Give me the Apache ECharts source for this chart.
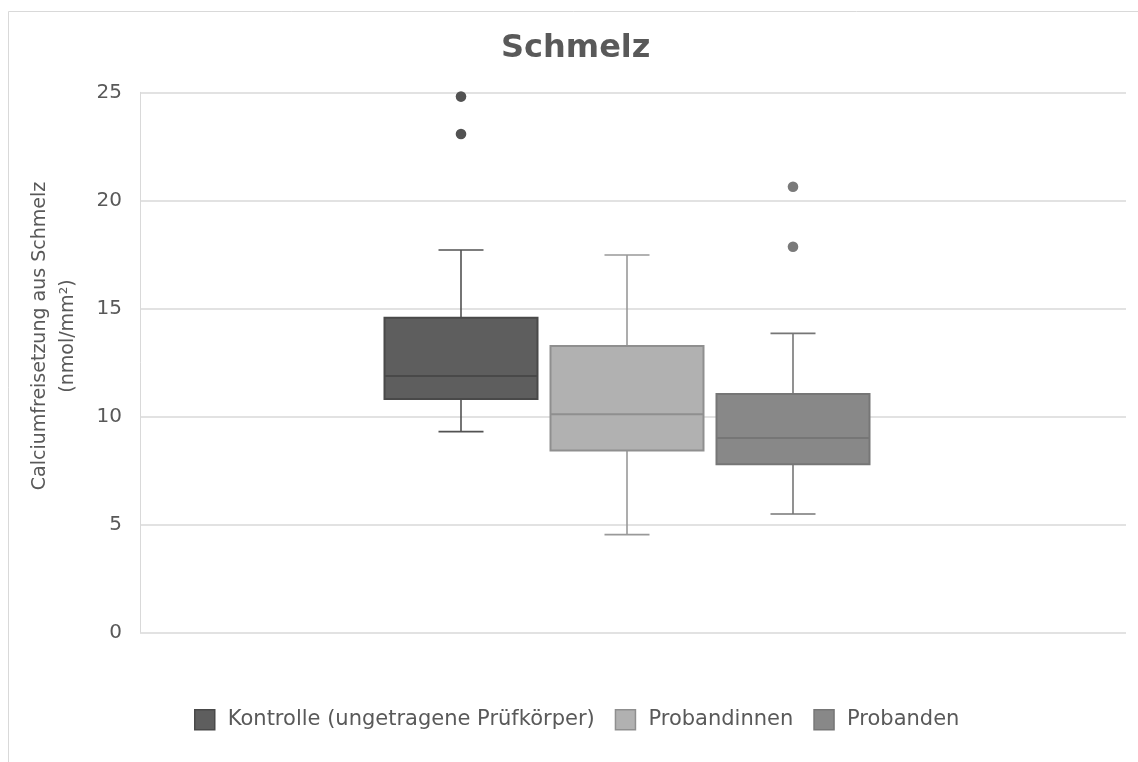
<!DOCTYPE html>
<html>
<head>
<meta charset="utf-8">
<script src="https://cdn.jsdelivr.net/npm/echarts@6/dist/echarts.min.js"></script>
<style>
  html, body { margin: 0; padding: 0; background: #ffffff; }
  #chart { width: 1138px; height: 762px; }
</style>
</head>
<body>
<div id="chart"></div>
<script>
// ---- data ----
const categories = ['Schmelz'];
const seriesNames = ['Kontrolle (ungetragene Prüfkörper)', 'Probandinnen', 'Probanden'];
// box statistics: [lower whisker, Q1, median, Q3, upper whisker]
const kontrolleStats = [9.29, 10.80, 11.87, 14.56, 17.70];
const probandinnenStats = [4.52, 8.42, 10.09, 13.25, 17.47];
const probandenStats = [5.48, 7.78, 9.00, 11.03, 13.84];
// values beyond the whiskers
const kontrolleOutliers = [24.80, 23.07];
const probandinnenOutliers = [];
const probandenOutliers = [20.63, 17.85];
const yTicks = [0, 5, 10, 15, 20, 25];

// ---- styling ----
const FONT = 'DejaVu Sans';
const TEXT = '#595959';
const GRID_LINE = '#d9d9d9';
const BOX_W = 153;      // box width, px
const BOX_PITCH = 166;  // centre-to-centre distance of neighbouring boxes, px
const GROUP_SHIFT = -6; // offset of the middle box from the band centre, px
const CAP_W = 45;       // whisker cap length, px

const looks = [
  { fill: '#5e5e5e', stroke: '#494949', whisker: '#525252', dot: '#525252' },
  { fill: '#b1b1b1', stroke: '#8f8f8f', whisker: '#999999', dot: '#999999' },
  { fill: '#888888', stroke: '#767676', whisker: '#767676', dot: '#7a7a7a' }
];
const statsList = [kontrolleStats, probandinnenStats, probandenStats];
const outlierList = [kontrolleOutliers, probandinnenOutliers, probandenOutliers];

function boxRenderer(idx) {
  const look = looks[idx];
  const outliers = outlierList[idx];
  return function (params, api) {
    const cat = api.value(0);
    const cx = api.coord([cat, 0])[0] + GROUP_SHIFT + (idx - 1) * BOX_PITCH;
    const py = v => api.coord([cat, v])[1];
    const lo = py(api.value(1)), q1 = py(api.value(2)), md = py(api.value(3)),
          q3 = py(api.value(4)), hi = py(api.value(5));
    const half = BOX_W / 2, cap = CAP_W / 2;
    const wStyle = { stroke: look.whisker, lineWidth: 1.6 };
    const children = [
      { type: 'line', shape: { x1: cx, y1: q1, x2: cx, y2: lo }, style: wStyle },
      { type: 'line', shape: { x1: cx, y1: q3, x2: cx, y2: hi }, style: wStyle },
      { type: 'line', shape: { x1: cx - cap, y1: lo, x2: cx + cap, y2: lo }, style: wStyle },
      { type: 'line', shape: { x1: cx - cap, y1: hi, x2: cx + cap, y2: hi }, style: wStyle },
      { type: 'rect', shape: { x: cx - half, y: q3, width: BOX_W, height: q1 - q3 },
        style: { fill: look.fill, stroke: look.stroke, lineWidth: 2 } },
      { type: 'line', shape: { x1: cx - half, y1: md, x2: cx + half, y2: md },
        style: { stroke: look.stroke, lineWidth: 2 } }
    ];
    outliers.forEach(v => {
      children.push({ type: 'circle', shape: { cx: cx, cy: py(v), r: 5.3 },
        style: { fill: look.dot } });
    });
    return { type: 'group', children: children };
  };
}

const chart = echarts.init(document.getElementById('chart'), null, { renderer: 'canvas' });

chart.setOption({
  backgroundColor: '#ffffff',
  animation: false,
  title: {
    text: 'Schmelz',
    left: 496,
    top: 28,
    textStyle: { fontFamily: FONT, fontSize: 32, fontWeight: 'bold', color: TEXT }
  },
  legend: {
    left: 194,
    top: 709,
    padding: 0,
    itemWidth: 20,
    itemHeight: 20,
    itemGap: 20,
    icon: 'rect',
    selectedMode: false,
    textStyle: { fontFamily: FONT, fontSize: 21, color: TEXT, padding: [0, 0, 0, 8] },
    data: seriesNames.map((n, i) => ({
      name: n,
      itemStyle: { color: looks[i].fill, borderColor: looks[i].stroke, borderWidth: 1.5 }
    }))
  },
  graphic: [
    {
      type: 'rect', silent: true, z: -10,
      shape: { x: 8.5, y: 11.5, width: 1160, height: 780 },
      style: { fill: 'none', stroke: GRID_LINE, lineWidth: 1 }
    },
    {
      type: 'text', x: 54, y: 336, rotation: Math.PI / 2,
      style: {
        text: 'Calciumfreisetzung aus Schmelz\n(nmol/mm²)',
        fontFamily: FONT, fontSize: 19, lineHeight: 28, fill: TEXT,
        align: 'center', verticalAlign: 'middle'
      }
    }
  ],
  grid: { left: 140, right: 12, top: 92.3, bottom: 129.7, containLabel: false },
  xAxis: {
    type: 'category',
    data: categories,
    axisLine: { show: false },
    axisTick: { show: false },
    axisLabel: { show: false },
    splitLine: { show: false }
  },
  yAxis: {
    type: 'value',
    min: yTicks[0],
    max: yTicks[yTicks.length - 1],
    interval: yTicks[1] - yTicks[0],
    axisLine: { show: true, lineStyle: { color: GRID_LINE, width: 1 } },
    axisTick: { show: false },
    axisLabel: { fontFamily: FONT, fontSize: 20, color: TEXT, margin: 18 },
    splitLine: { show: true, lineStyle: { color: GRID_LINE, width: 1.5 } }
  },
  series: seriesNames.map((name, i) => ({
    type: 'custom',
    name: name,
    itemStyle: { color: looks[i].fill },
    renderItem: boxRenderer(i),
    encode: { x: 0, y: [1, 2, 3, 4, 5] },
    data: [[categories[0]].concat(statsList[i])]
  }))
});
</script>
</body>
</html>
